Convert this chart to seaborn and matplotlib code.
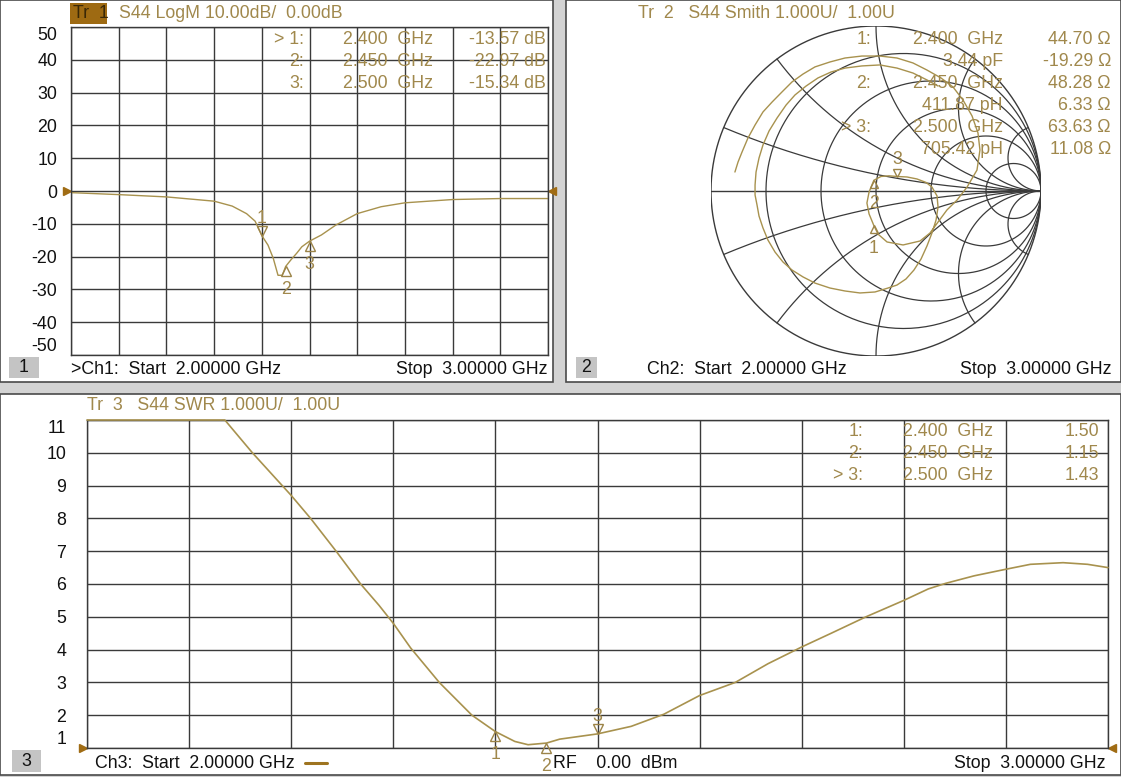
import numpy as np
import pandas as pd
import matplotlib
matplotlib.use("Agg")
import matplotlib.pyplot as plt
import matplotlib.transforms as mtransforms
from matplotlib.patches import Rectangle
import seaborn as sns

# ---------------- data ----------------
freq_ticks = [2.0, 2.1, 2.2, 2.3, 2.4, 2.5, 2.6, 2.7, 2.8, 2.9, 3.0]

logm_freq = [2.000, 2.100, 2.200, 2.300, 2.338, 2.368, 2.386, 2.400, 2.413, 2.424,
             2.434, 2.443, 2.450, 2.461, 2.473, 2.484, 2.500, 2.525, 2.555, 2.600,
             2.650, 2.700, 2.750, 2.800, 2.900, 3.000]
logm_db = [-0.5, -1.1, -1.8, -3.1, -4.6, -6.9, -9.2, -13.6, -16.5, -20.5,
           -25.7, -25.7, -23.0, -21.0, -19.0, -17.0, -15.3, -13.4, -10.4, -6.9,
           -4.8, -3.6, -3.1, -2.6, -2.3, -2.3]
logm_ticks = [50, 40, 30, 20, 10, 0, -10, -20, -30, -40, -50]

swr_freq = [2.000, 2.100, 2.135, 2.162, 2.181, 2.200, 2.219, 2.244, 2.268, 2.286,
            2.300, 2.317, 2.345, 2.377, 2.400, 2.419, 2.432, 2.450, 2.463, 2.500,
            2.533, 2.565, 2.600, 2.635, 2.667, 2.700, 2.729, 2.763, 2.800, 2.824,
            2.841, 2.869, 2.900, 2.924, 2.956, 2.980, 3.000]
swr_val = [11.0, 11.0, 11.0, 10.0, 9.35, 8.7, 8.0, 7.0, 6.0, 5.35,
           4.8, 4.05, 3.0, 2.0, 1.5, 1.2, 1.1, 1.15, 1.27, 1.43,
           1.66, 2.03, 2.6, 3.0, 3.57, 4.08, 4.5, 5.0, 5.5, 5.85,
           6.02, 6.25, 6.45, 6.6, 6.65, 6.6, 6.5]
swr_ticks = [11, 10, 9, 8, 7, 6, 5, 4, 3, 2, 1]

smith_re = [-0.855, -0.836, -0.812, -0.776, -0.733, -0.685, -0.630, -0.570, -0.509, -0.442,
            -0.370, -0.279, -0.188, -0.085, 0.024, 0.127, 0.224, 0.309, 0.394, 0.467,
            0.527, 0.582, 0.618, 0.630, 0.612, 0.552, 0.491, 0.430, 0.376, 0.327,
            0.267, 0.164, 0.067, 0.012, -0.014, -0.042, -0.055, -0.042, -0.013, 0.030,
            0.079, 0.128, 0.188, 0.248, 0.303, 0.339, 0.370, 0.376, 0.364, 0.339,
            0.309, 0.273, 0.230, 0.182, 0.127, 0.073, -0.006, -0.097, -0.188, -0.279,
            -0.370, -0.442, -0.509, -0.564, -0.612, -0.655, -0.685, -0.709, -0.721, -0.733,
            -0.733, -0.727, -0.709, -0.685, -0.648, -0.600, -0.545, -0.491, -0.424, -0.352,
            -0.273, -0.188, -0.085, 0.024, 0.127, 0.224, 0.309, 0.376]
smith_im = [0.115, 0.176, 0.236, 0.321, 0.400, 0.479, 0.539, 0.600, 0.661, 0.709,
            0.752, 0.782, 0.806, 0.818, 0.818, 0.806, 0.776, 0.733, 0.685, 0.630,
            0.552, 0.455, 0.352, 0.248, 0.127, 0.024, -0.055, -0.115, -0.188, -0.255,
            -0.303, -0.327, -0.309, -0.261, -0.207, -0.139, -0.073, -0.006, 0.065, 0.088,
            0.092, 0.088, 0.085, 0.073, 0.052, 0.024, -0.030, -0.097, -0.176, -0.255,
            -0.333, -0.412, -0.479, -0.533, -0.570, -0.588, -0.612, -0.618, -0.606, -0.588,
            -0.558, -0.521, -0.479, -0.430, -0.370, -0.297, -0.224, -0.152, -0.085, -0.024,
            0.036, 0.115, 0.200, 0.279, 0.364, 0.442, 0.521, 0.582, 0.636, 0.685,
            0.721, 0.745, 0.758, 0.764, 0.745, 0.715, 0.673, 0.636]

mk_names = ["1", "2", "3"]
mk_freq = [2.400, 2.450, 2.500]
mk_logm = [-13.57, -22.97, -15.34]
mk_swr = [1.50, 1.15, 1.43]
mk_res = [44.70, 48.28, 63.63]
mk_reac = [-19.29, 6.33, 11.08]
z0 = 50.0

logm_table = [["> 1:", "2.400  GHz", "-13.57 dB"],
              ["2:", "2.450  GHz", "-22.97 dB"],
              ["3:", "2.500  GHz", "-15.34 dB"]]
smith_table = [["1:", "2.400  GHz", "44.70 \u03a9"],
               ["", "3.44 pF", "-19.29 \u03a9"],
               ["2:", "2.450  GHz", "48.28 \u03a9"],
               ["", "411.87 pH", "6.33 \u03a9"],
               ["> 3:", "2.500  GHz", "63.63 \u03a9"],
               ["", "705.42 pH", "11.08 \u03a9"]]
swr_table = [["1:", "2.400  GHz", "1.50"],
             ["2:", "2.450  GHz", "1.15"],
             ["> 3:", "2.500  GHz", "1.43"]]

# ---------------- style ----------------
sns.set_theme(style="white")
plt.rcParams['font.family'] = ['Liberation Sans', 'DejaVu Sans']

TRACE = '#a8924e'
TXT = '#a0884c'
MK = '#9c8448'
REF = '#a06c14'
GRID = '#3a3a3a'
FS = 12.8

W, H = 1121, 777
fig = plt.figure(figsize=(W / 100, H / 100), dpi=100)
fig.patch.set_facecolor('#d3d3d3')


def px_axes(l, t, r, b, z=0):
    ax = fig.add_axes([l / W, 1 - b / H, (r - l) / W, (b - t) / H])
    ax.set_zorder(z)
    return ax


bg = px_axes(0, 0, W, H, z=-10)
bg.set_xlim(0, W)
bg.set_ylim(H, 0)
bg.axis('off')
for (x0, y0, x1, y1) in [(0, 0, 553, 382), (566, 0, 1121, 382), (0, 394, 1121, 775)]:
    bg.add_patch(Rectangle((x0, y0), x1 - x0, y1 - y0, facecolor='white',
                           edgecolor='#4a4a4a', lw=1.2))


def marker(ax, x, y, kind, label, ms=6.8):
    sign = -1 if kind == '^' else 1
    tr = mtransforms.offset_copy(ax.transData, fig=fig, x=0, y=sign * ms / 2, units='points')
    ax.plot([x], [y], marker=kind, ms=ms, mfc='none', mec=MK, mew=1.0,
            transform=tr, clip_on=False, zorder=6, ls='none')
    off = -16.6 if kind == '^' else 12.4
    trl = mtransforms.offset_copy(ax.transData, fig=fig, x=0, y=off, units='points')
    ax.text(x, y, label, transform=trl, ha='center', va='center', color=TXT,
            fontsize=FS, clip_on=False, zorder=6)


def ref_arrows(ax, xl, xr, y):
    ms = 6
    trl = mtransforms.offset_copy(ax.transData, fig=fig, x=-ms / 2, y=0, units='points')
    trr = mtransforms.offset_copy(ax.transData, fig=fig, x=ms / 2, y=0, units='points')
    ax.plot([xl], [y], marker='>', ms=ms, color=REF, transform=trl, clip_on=False, ls='none')
    ax.plot([xr], [y], marker='<', ms=ms, color=REF, transform=trr, clip_on=False, ls='none')


def style_rect(ax, yticks, ylim, pad):
    ax.set_facecolor('none')
    ax.set_xlim(2.0, 3.0)
    ax.set_ylim(*ylim)
    ax.set_xticks(freq_ticks)
    ax.set_yticks(yticks)
    ax.set_yticklabels([str(v) for v in yticks])
    ax.set_xticklabels([])
    ax.tick_params(axis='both', length=0)
    ax.tick_params(axis='y', pad=pad, labelsize=FS, labelcolor='#111111')
    ax.grid(True, color=GRID, lw=1.0)
    for s in ax.spines.values():
        s.set_color(GRID)
        s.set_linewidth(1.0)
    ax.set_xlabel('')
    ax.set_ylabel('')
    for lab in ax.get_yticklabels():
        if lab.get_text() == str(max(yticks)):
            lab.set_va('top')
        elif lab.get_text() == str(min(yticks)):
            lab.set_va('bottom')


# ---------------- panel 1 : LogM ----------------
ax1 = px_axes(71, 27, 548, 355, z=1)
df1 = pd.DataFrame({'f': logm_freq, 'v': logm_db})
sns.lineplot(data=df1, x='f', y='v', ax=ax1, color=TRACE, lw=1.0, estimator=None, sort=False)
style_rect(ax1, logm_ticks, (-50, 50), 10)
ref_arrows(ax1, 2.0, 3.0, 0)
for f, v, n, k in zip(mk_freq, mk_logm, mk_names, ['v', '^', '^']):
    marker(ax1, f, v, k, n)

# ---------------- panel 3 : SWR ----------------
ax3 = px_axes(87, 420, 1108, 748, z=1)
df3 = pd.DataFrame({'f': swr_freq, 'v': swr_val})
sns.lineplot(data=df3, x='f', y='v', ax=ax3, color=TRACE, lw=1.2, estimator=None, sort=False)
for ln in ax3.get_lines():
    ln.set_clip_on(False)
    ln.set_zorder(4)
style_rect(ax3, swr_ticks, (1, 11), 15)
ref_arrows(ax3, 2.0, 3.0, 1)
for f, v, n, k in zip(mk_freq, mk_swr, mk_names, ['^', '^', 'v']):
    marker(ax3, f, v, k, n)

# ---------------- panel 2 : Smith ----------------
ax2 = px_axes(711, 26, 1041, 356, z=1)
t = np.linspace(0, 2 * np.pi, 500)
ax2.plot(np.cos(t), np.sin(t), color=GRID, lw=1.0)
ax2.plot([-1, 1], [0, 0], color=GRID, lw=1.0)
xs = np.concatenate([-np.logspace(3, -3, 500), np.logspace(-3, 3, 500)])
for r in [0.2, 0.5, 1, 2, 5]:
    g = (r + 1j * xs - 1) / (r + 1j * xs + 1)
    ax2.plot(g.real, g.imag, color=GRID, lw=0.9)
rs = np.concatenate([[0.0], np.logspace(-3, 3, 700)])
for xv in [0.2, 0.5, 1, 2, 5]:
    for s in (1, -1):
        z = rs + 1j * s * xv
        g = (z - 1) / (z + 1)
        ax2.plot(g.real, g.imag, color=GRID, lw=0.9)
df2 = pd.DataFrame({'re': smith_re, 'im': smith_im})
sns.lineplot(data=df2, x='re', y='im', ax=ax2, color=TRACE, lw=1.0, estimator=None, sort=False)
ax2.set_xlim(-1, 1)
ax2.set_ylim(-1, 1)
ax2.axis('off')
zm = (np.array(mk_res) + 1j * np.array(mk_reac)) / z0
gm = (zm - 1) / (zm + 1)
for gr, gi, n, k in zip(gm.real, gm.imag, mk_names, ['^', '^', 'v']):
    marker(ax2, gr, gi, k, n, ms=6)

# ---------------- overlay text ----------------
ov = px_axes(0, 0, W, H, z=20)
ov.set_xlim(0, W)
ov.set_ylim(H, 0)
ov.axis('off')
ov.patch.set_alpha(0)


def txt(x, y, s, ha='left', color=TXT, **kw):
    ov.text(x, y, s, ha=ha, va='center', color=color, fontsize=FS, **kw)


# headers
ov.add_patch(Rectangle((70, 3), 37, 21, facecolor='#9e6a12', edgecolor='none'))
txt(73, 14, "Tr  1", color='#3a2806')
txt(119, 14, "S44 LogM 10.00dB/  0.00dB")
txt(638, 14, "Tr  2   S44 Smith 1.000U/  1.00U")
txt(87, 405, "Tr  3   S44 SWR 1.000U/  1.00U")

# marker tables
for i, row in enumerate(logm_table):
    y = 39 + 22 * i
    txt(304, y, row[0], ha='right')
    txt(343, y, row[1])
    txt(546, y, row[2], ha='right')
for i, row in enumerate(smith_table):
    y = 39 + 22 * i
    txt(871, y, row[0], ha='right')
    txt(1003, y, row[1], ha='right')
    txt(1111, y, row[2], ha='right')
for i, row in enumerate(swr_table):
    y = 432 + 22 * i
    txt(863, y, row[0], ha='right')
    txt(903, y, row[1])
    txt(1099, y, row[2], ha='right')

# footers
BLK = '#111111'
for (x0, y0, w, h, lab) in [(9, 357, 30, 21, "1"), (576, 357, 21, 21, "2"), (12, 750, 29, 22, "3")]:
    ov.add_patch(Rectangle((x0, y0), w, h, facecolor='#c4c4c4', edgecolor='none'))
    txt(x0 + w / 2, y0 + h / 2, lab, ha='center', color=BLK)
txt(71, 370, ">Ch1:  Start  2.00000 GHz", color=BLK)
txt(548, 370, "Stop  3.00000 GHz", ha='right', color=BLK)
txt(647, 370, "Ch2:  Start  2.00000 GHz", color=BLK)
txt(1112, 370, "Stop  3.00000 GHz", ha='right', color=BLK)
txt(95, 763, "Ch3:  Start  2.00000 GHz", color=BLK)
ov.plot([305, 327], [763, 763], color='#9e7420', lw=2.2)
txt(553, 763, "RF    0.00  dBm", color=BLK)
txt(1106, 763, "Stop  3.00000 GHz", ha='right', color=BLK)

fig.savefig("out.png", dpi=100, facecolor=fig.get_facecolor())
